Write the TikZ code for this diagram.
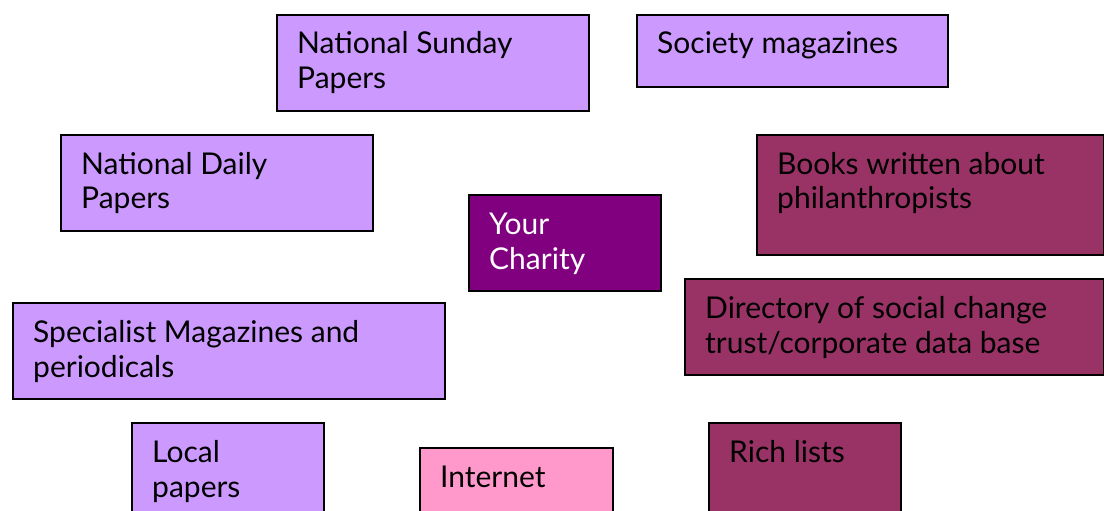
\documentclass[tikz,border=0pt]{standalone}
\usepackage{fontspec}
\setmainfont{Lato}
\definecolor{lavender}{HTML}{CC99FF}
\definecolor{plum}{HTML}{800080}
\definecolor{wine}{HTML}{993366}
\definecolor{rose}{HTML}{FF99CC}
\tikzset{
  srcbox/.style={draw=black, line width=1.8pt, rectangle, inner sep=0pt},
  srctext/.style={anchor=base west, inner sep=0pt, font=\fontsize{30}{35}\selectfont},
}
% a box from its top-left corner (x,y) with width w and height h, text on its first line
\newcommand{\srcnode}[8]{%
  \node[srcbox, fill=#6, anchor=north west, minimum width=#4pt, minimum height=#5pt] (#1) at (#2,#3) {};
  \node[srctext, text=#7] (#1-t) at ([xshift=21pt, yshift=-40pt]#1.north west) {\parbox[t]{#4pt}{\raggedright #8}};
}
\begin{document}
\begin{tikzpicture}[x=1pt, y=-1pt]
  \useasboundingbox (0,0) rectangle (1104,511);
  \clip (0,0) rectangle (1104,511);
  \srcnode{sunday}{276}{14}{312}{96}{lavender}{black}{National Sunday\\Papers}
  \srcnode{society}{636}{14}{311}{72}{lavender}{black}{Society magazines}
  \srcnode{daily}{60}{134}{312}{96}{lavender}{black}{National Daily\\Papers}
  \srcnode{books}{756}{134}{347}{120}{wine}{black}{Books written about\\philanthropists}
  \srcnode{charity}{468}{194}{192}{96}{plum}{white}{Your\\Charity}
  \srcnode{directory}{684}{278}{419}{96}{wine}{black}{Directory of social change\\trust/corporate data base}
  \srcnode{specialist}{12}{302}{432}{96}{lavender}{black}{Specialist Magazines and\\periodicals}
  \srcnode{local}{131}{422}{192}{120}{lavender}{black}{Local\\papers}
  \srcnode{internet}{419}{447}{193}{100}{rose}{black}{Internet}
  \srcnode{rich}{708}{422}{192}{120}{wine}{black}{Rich lists}
\end{tikzpicture}
\end{document}
